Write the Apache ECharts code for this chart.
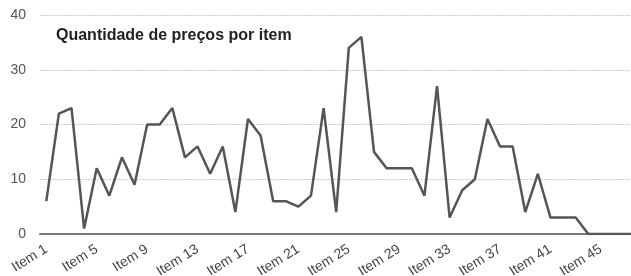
<!DOCTYPE html>
<html>
<head>
<meta charset="utf-8">
<script src="https://cdn.jsdelivr.net/npm/echarts@6/dist/echarts.min.js"></script>
<style>
html, body { margin: 0; padding: 0; background: #fff; overflow: hidden; }
#chart { width: 645px; height: 276px; }
</style>
</head>
<body>
<div id="chart"></div>
<script>
// dados
const items = []
for (let i = 1; i <= 48; i++) items.push('Item ' + i)
const precos = [
  6, 22, 23, 1, 12, 7, 14, 9, 20, 20,
  23, 14, 16, 11, 16, 4, 21, 18, 6, 6,
  5, 7, 23, 4, 34, 36, 15, 12, 12, 12,
  7, 27, 3, 8, 10, 21, 16, 16, 4, 11,
  3, 3, 3, 0, 0, 0, 0, 0
]
const yTicks = [0, 10, 20, 30, 40]

const chart = echarts.init(document.getElementById('chart'))
chart.setOption({
  animation: false,
  title: {
    text: 'Quantidade de preços por item',
    left: 51,
    top: 23,
    textStyle: { fontFamily: 'Liberation Sans', fontSize: 16, fontWeight: 'bold', color: '#222' }
  },
  grid: { left: 40, right: 0, top: 15, bottom: 42, containLabel: false, outerBoundsMode: 'none' },
  xAxis: {
    type: 'category',
    data: items,
    boundaryGap: true,
    axisLine: { lineStyle: { color: '#777', width: 2 } },
    axisTick: { show: false },
    axisLabel: {
      interval: 3,
      rotate: 32,
      margin: 14,
      fontFamily: 'Liberation Sans',
      fontSize: 14,
      color: '#444'
    }
  },
  yAxis: {
    type: 'value',
    min: yTicks[0],
    max: yTicks[yTicks.length - 1],
    interval: 10,
    axisLine: { show: false },
    axisTick: { show: false },
    axisLabel: { fontFamily: 'Liberation Sans', fontSize: 14, color: '#555', margin: 14 },
    splitLine: { lineStyle: { color: '#ccc', type: [2, 1], width: 1 } }
  },
  series: [{
    type: 'line',
    data: precos,
    symbol: 'none',
    lineStyle: { color: '#555', width: 2.5 }
  }]
})
</script>
</body>
</html>
